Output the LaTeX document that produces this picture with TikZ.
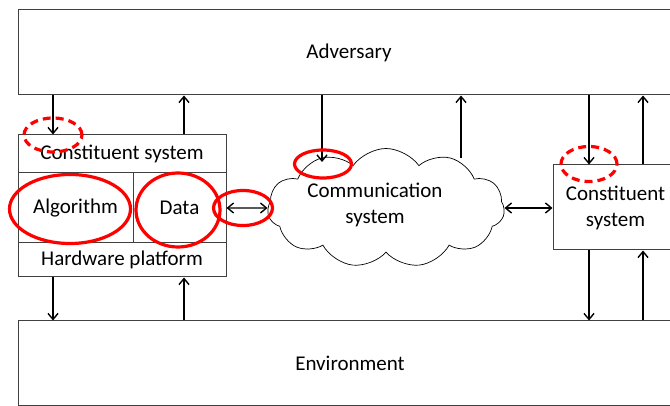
\documentclass[tikz,border=0pt]{standalone}
\usepackage{fontspec}
\setmainfont{Carlito}
\usetikzlibrary{arrows.meta,shapes.geometric,shapes.symbols}
\begin{document}
\begin{tikzpicture}[x=1pt,y=-1pt,font=\fontsize{21}{26}\selectfont,
	box/.style={draw=black!75,line width=1pt,inner sep=0pt,align=center},
	arr/.style={line width=1.4pt,-{Straight Barb[length=6pt,width=10pt]}},
	darr/.style={line width=1.4pt,{Straight Barb[length=6pt,width=10pt]}-{Straight Barb[length=6pt,width=10pt]}},
	ring/.style={draw=red,line width=3.2pt,ellipse,inner sep=0pt},
	dring/.style={ring,dash pattern=on 8pt off 5pt}]
		\useasboundingbox (0,0) rectangle (670,406);
		\clip (0,0) rectangle (670,406);
		\path
		(53,0) coordinate (xa)
		(184,0) coordinate (xb)
		(589,0) coordinate (xc)
		(643,0) coordinate (xd)
		(322,162) coordinate (cin)
		(461,158) coordinate (cout);
		\node[box,minimum width=662,minimum height=85] (adv) at (349,52.5) {Adversary};
		\node[box,minimum width=664,minimum height=84] (env) at (350,363) {Environment};
		\node[box,minimum width=208,minimum height=38] (cs) at (122,154) {Constituent system};
		\node[box,minimum width=115,minimum height=70] (alg) at (75.5,208) {Algorithm};
		\node[box,minimum width=93,minimum height=70] (data) at (179.5,208) {Data};
		\node[box,minimum width=208,minimum height=34] (hw) at (122,260) {Hardware platform};
		\node[box,minimum width=125,minimum height=85] (cs2) at (615.5,207.5) {Constituent\\system};
		\node[cloud,draw,line width=0.7pt,cloud puffs=11,cloud puff arc=110,aspect=2,
			minimum width=237,minimum height=119,inner sep=0pt] (comm) at (386,208) {};
		\node[align=center] (commtxt) at (375,205) {Communication\\system};
		% arrows to and from the adversary and the environment
		\foreach \p/\q in {xa/cs,xc/cs2} {
			\draw[arr] (adv.south -| \p) -- (\q.north -| \p);}
		\foreach \p/\q in {xb/cs,xd/cs2} {
			\draw[arr] (\q.north -| \p) -- (adv.south -| \p);}
		\foreach \p/\q in {xa/hw,xc/cs2} {
			\draw[arr] (\q.south -| \p) -- (env.north -| \p);}
		\foreach \p/\q in {xb/hw,xd/cs2} {
			\draw[arr] (env.north -| \p) -- (\q.south -| \p);}
		\draw[arr] (adv.south -| cin) -- (cin);
		\draw[arr] (cout) -- (adv.south -| cout);
		\draw[darr] (data.east) -- (comm.west);
		\draw[darr] (comm.east) -- (comm.east -| cs2.west);
		% red rings
		\node[dring,minimum width=58,minimum height=34] (r1) at (53,135) {};
		\node[ring,minimum width=121,minimum height=69] (r2) at (70,209) {};
		\node[ring,minimum width=84,minimum height=74] (r3) at (178,210) {};
		\node[ring,minimum width=59,minimum height=35] (r4) at (243,208) {};
		\node[ring,minimum width=57,minimum height=28] (r5) at (323,164) {};
		\node[dring,minimum width=56,minimum height=35] (r6) at (589,164) {};
\end{tikzpicture}
\end{document}
